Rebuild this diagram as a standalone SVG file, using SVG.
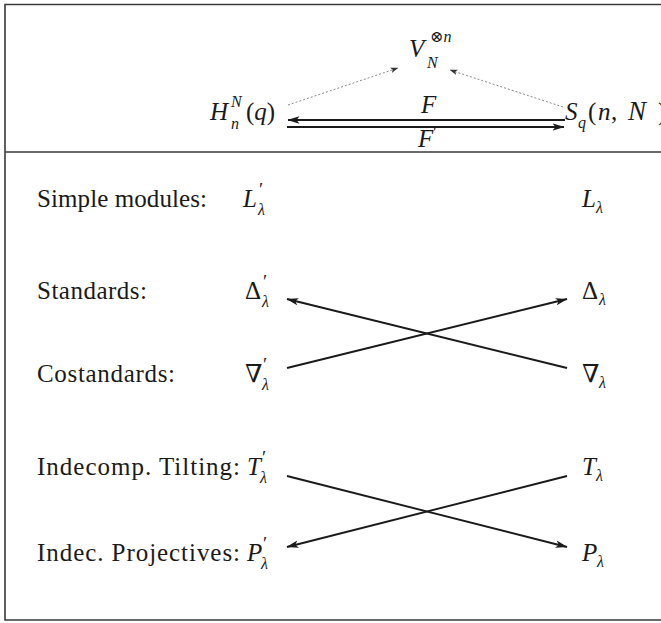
<svg xmlns="http://www.w3.org/2000/svg" width="661" height="623" viewBox="0 0 661 623">
<style>
  .t { font-family: "Liberation Serif", "DejaVu Serif", serif; font-size: 25px; fill: #1a1a1a; }
  .m { font-family: "Liberation Serif", "DejaVu Serif", serif; font-size: 25px; font-style: italic; fill: #1a1a1a; }
  .s { font-size: 16px; }
  .pr { font-family: "Liberation Serif", serif; font-size: 19px; font-style: normal; fill: #1a1a1a; }
  .frame { stroke: #3a3a3a; stroke-width: 1.6; fill: none; }
  .arr { stroke: #1a1a1a; stroke-width: 1.9; fill: none; marker-end: url(#ah); }
  .dot { stroke: #8a8a8a; stroke-width: 1; stroke-dasharray: 2 2; fill: none; marker-end: url(#ahs); }
</style>
<defs>
  <marker id="ah" viewBox="0 0 12 8" refX="11.5" refY="4" markerWidth="12" markerHeight="8" markerUnits="userSpaceOnUse" orient="auto">
    <path d="M0,0.3 L12,4 L0,7.7 L3,4 Z" fill="#1a1a1a"/>
  </marker>
  <marker id="ahs" viewBox="0 0 8 6" refX="7.5" refY="3" markerWidth="8" markerHeight="6" markerUnits="userSpaceOnUse" orient="auto">
    <path d="M0,0.3 L8,3 L0,5.7 L2,3 Z" fill="#333"/>
  </marker>
</defs>

<g id="frame">
  <path class="frame" d="M661,4.5 H5 V620 H661"/>
  <line class="frame" x1="5" y1="152" x2="661" y2="152"/>
</g>

<!-- top diagram -->
<g id="node-V">
  <text class="m" x="409" y="57">V</text>
  <text class="t s" x="430" y="42">⊗<tspan class="m s">n</tspan></text>
  <text class="m s" x="427" y="68">N</text>
</g>
<g id="node-H">
  <text class="m" x="210" y="120">H</text>
  <text class="m s" x="231" y="107">N</text>
  <text class="m s" x="231" y="129">n</text>
  <text class="t" x="246" y="120">(<tspan class="m">q</tspan>)</text>
</g>
<g id="node-S">
  <text class="m" x="565" y="120">S</text>
  <text class="m s" x="578" y="128">q</text>
  <text class="t" x="588" y="120">(</text>
  <text class="m" x="598" y="120">n</text>
  <text class="t" x="611" y="120">,</text>
  <text class="m" x="628" y="120" style="font-size:27px">N</text>
  <text class="t" x="658" y="120">)</text>
</g>
<g id="label-F">
  <text class="m" x="421" y="113">F</text>
</g>
<g id="label-Fp">
  <text class="m" x="418" y="147">F</text>
  <text class="pr" x="433" y="139">′</text>
</g>

<!-- row labels -->
<g id="row-labels">
  <text class="t" x="37" y="207" textLength="170">Simple modules:</text>
  <text class="t" x="37" y="299" textLength="110">Standards:</text>
  <text class="t" x="37" y="382" textLength="138">Costandards:</text>
  <text class="t" x="37" y="475" textLength="203">Indecomp. Tilting:</text>
  <text class="t" x="37" y="561" textLength="203">Indec. Projectives:</text>
</g>

<!-- left column nodes -->
<g id="node-Lp">
  <text class="m" x="243" y="207">L</text>
  <text class="pr" x="259" y="196">′</text>
  <text class="m s" x="258" y="215">λ</text>
</g>
<g id="node-Dp">
  <text class="t" x="245" y="299">Δ</text>
  <text class="pr" x="263" y="288">′</text>
  <text class="m s" x="262" y="307">λ</text>
</g>
<g id="node-Np">
  <text class="t" x="245" y="382">∇</text>
  <text class="pr" x="263" y="371">′</text>
  <text class="m s" x="262" y="390">λ</text>
</g>
<g id="node-Tp">
  <text class="m" x="247" y="475">T</text>
  <text class="pr" x="262" y="464">′</text>
  <text class="m s" x="260" y="483">λ</text>
</g>
<g id="node-Pp">
  <text class="m" x="247" y="561">P</text>
  <text class="pr" x="263" y="550">′</text>
  <text class="m s" x="261" y="569">λ</text>
</g>

<!-- right column nodes -->
<g id="node-L">
  <text class="m" x="582" y="207">L</text>
  <text class="m s" x="596" y="213">λ</text>
</g>
<g id="node-D">
  <text class="t" x="582" y="299">Δ</text>
  <text class="m s" x="599" y="305">λ</text>
</g>
<g id="node-N">
  <text class="t" x="582" y="382">∇</text>
  <text class="m s" x="599" y="388">λ</text>
</g>
<g id="node-T">
  <text class="m" x="582" y="475">T</text>
  <text class="m s" x="596" y="481">λ</text>
</g>
<g id="node-P">
  <text class="m" x="582" y="561">P</text>
  <text class="m s" x="597" y="567">λ</text>
</g>

<g id="connectors">
  <line class="dot" x1="288" y1="105" x2="398" y2="68"/>
  <line class="dot" x1="563" y1="107" x2="450" y2="70"/>
  <line class="arr" x1="565" y1="120" x2="288" y2="120"/>
  <line class="arr" x1="287" y1="127" x2="564" y2="127"/>
  <line class="arr" x1="567" y1="368" x2="287" y2="299"/>
  <line class="arr" x1="287" y1="368" x2="567" y2="299"/>
  <line class="arr" x1="287" y1="476" x2="567" y2="547"/>
  <line class="arr" x1="567" y1="476" x2="287" y2="547"/>
</g>
</svg>
